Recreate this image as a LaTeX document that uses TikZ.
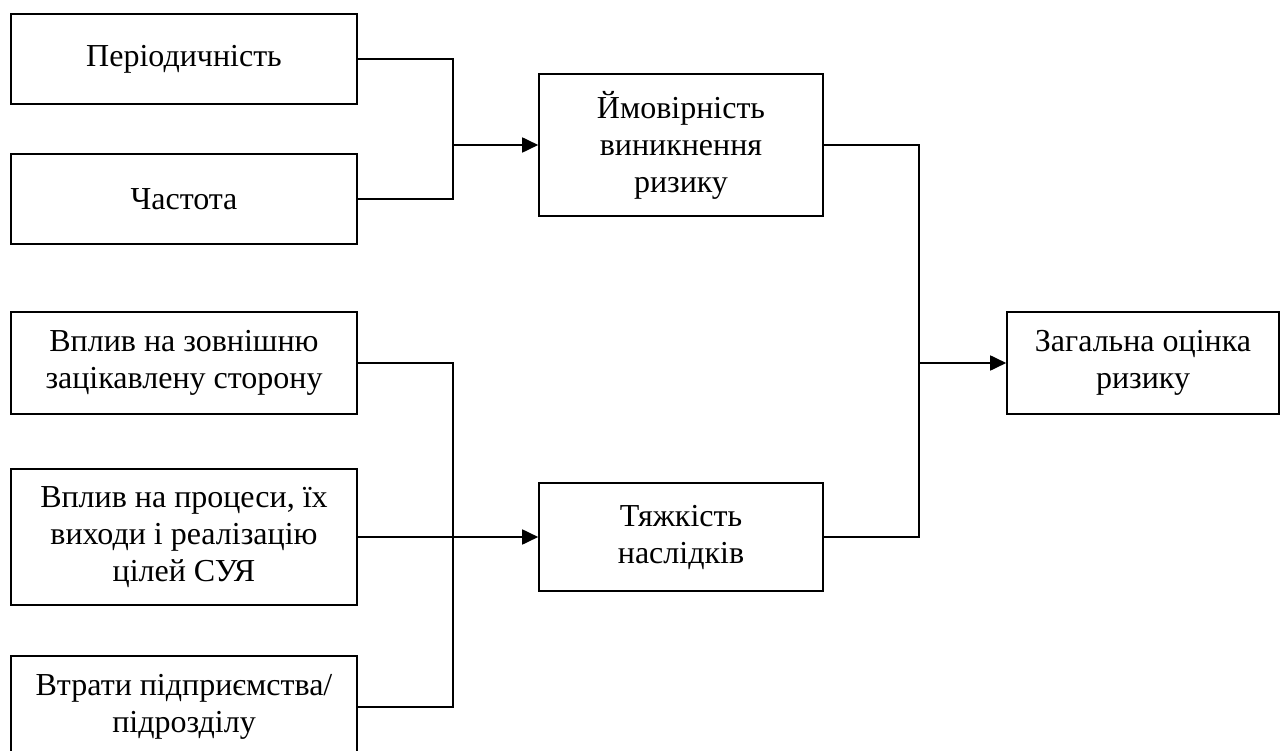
\documentclass[tikz,border=0pt]{standalone}
\usepackage{fontspec}
\setmainfont{Liberation Serif}
\usetikzlibrary{arrows.meta}
\begin{document}
\begin{tikzpicture}[x=1pt,y=-1pt,
  box/.style={draw, line width=1.6pt, align=center, inner sep=0pt,
    font=\fontsize{32}{37}\selectfont},
  link/.style={line width=1.3pt},
  feed/.style={line width=1.8pt, -{Triangle[length=16pt,width=15pt]}}]
\useasboundingbox (0,0) rectangle (1282,751);
\clip (0,0) rectangle (1282,751);

% factors on the left
\node[box, minimum width=346pt, minimum height=90pt]  (b1) at (184,59)  {Періодичність};
\node[box, minimum width=346pt, minimum height=90pt]  (b2) at (184,199) {Частота};
\node[box, minimum width=346pt, minimum height=102pt] (b3) at (184,363) {Вплив на зовнішню\\зацікавлену сторону};
\node[box, minimum width=346pt, minimum height=136pt] (b4) at (184,537) {Вплив на процеси, їх\\виходи і реалізацію\\цілей СУЯ};
\node[box, minimum width=346pt, minimum height=102pt] (b5) at (184,707) {Втрати підприємства/\\підрозділу};

% intermediate criteria
\node[box, minimum width=284pt, minimum height=142pt] (P) at (681,145) {Ймовірність\\виникнення\\ризику};
\node[box, minimum width=284pt, minimum height=108pt] (T) at (681,537) {Тяжкість\\наслідків};

% result
\node[box, minimum width=272pt, minimum height=102pt] (Z) at (1143,363) {Загальна оцінка\\ризику};

% bus lines
\coordinate (j1) at (453,0);
\coordinate (j2) at (919,0);

\draw[link] (b1.east) -- (b1.east -| j1) |- (b2.east);
\draw[feed] (j1 |- P.west) -- (P.west);

\draw[link] (b3.east) -- (b3.east -| j1) |- (b5.east);
\draw[feed] (b4.east) -- (T.west);

\draw[link] (P.east) -- (P.east -| j2) |- (T.east);
\draw[feed] (j2 |- Z.west) -- (Z.west);
\end{tikzpicture}
\end{document}
